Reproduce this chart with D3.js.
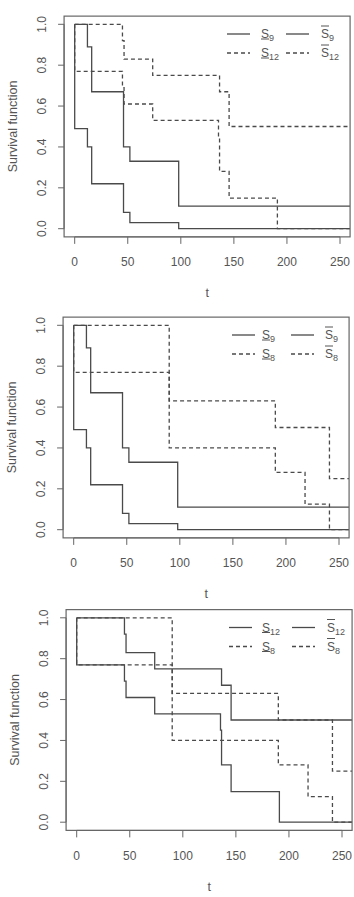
<!DOCTYPE html>
<html>
<head>
<meta charset="utf-8">
<script src="https://cdn.jsdelivr.net/npm/d3@7"></script>
<style>
  body { margin: 0; background: #fff; }
  text { font-family: "Liberation Sans", Arial, sans-serif; fill: #555; }
</style>
</head>
<body>
<svg id="chart" width="354" height="897"></svg>
<script>
// values (time, survival)
var tTicks = [0, 50, 100, 150, 200, 250];
var sTicks = [0, 0.2, 0.4, 0.6, 0.8, 1.0];

var s9LowTimes = [0, 12, 16, 46, 52, 98];
var s9LowSurv  = [0.49, 0.40, 0.22, 0.08, 0.03, 0];
var s9UpTimes  = [0, 12, 16, 46, 52, 98];
var s9UpSurv   = [1, 0.89, 0.67, 0.40, 0.33, 0.11];

var s12LowTimes = [0, 45, 46.5, 73.5, 135.5, 136.5, 145.5, 191];
var s12LowSurv  = [0.77, 0.69, 0.61, 0.53, 0.45, 0.28, 0.15, 0];
var s12UpTimes  = [0, 45, 46.5, 73.5, 136.5, 145.5];
var s12UpSurv   = [1, 0.92, 0.83, 0.75, 0.67, 0.50];

var s8LowTimes = [0, 90, 190, 218, 241];
var s8LowSurv  = [0.77, 0.40, 0.28, 0.125, 0];
var s8UpTimes  = [0, 90, 190, 241];
var s8UpSurv   = [1, 0.63, 0.50, 0.25];

var lineCol = "#4a4a4a";
var axisCol = "#666";
var svg = d3.select("#chart");

function curve(times, surv, dashed, sub, upper) {
  return { times: times, surv: surv, dashed: dashed, sub: sub, upper: upper };
}

var panels = [
  { ox: 0, oy: 0, legX: [227, 261, 286, 321],
    curves: [curve(s9LowTimes, s9LowSurv, false, "9", false), curve(s9UpTimes, s9UpSurv, false, "9", true),
             curve(s12LowTimes, s12LowSurv, true, "12", false), curve(s12UpTimes, s12UpSurv, true, "12", true)] },
  { ox: -1, oy: 301, legX: [233, 263, 292, 326],
    curves: [curve(s9LowTimes, s9LowSurv, false, "9", false), curve(s9UpTimes, s9UpSurv, false, "9", true),
             curve(s8LowTimes, s8LowSurv, true, "8", false), curve(s8UpTimes, s8UpSurv, true, "8", true)] },
  { ox: 2, oy: 593.5, legX: [227, 260, 290, 325],
    curves: [curve(s12LowTimes, s12LowSurv, false, "12", false), curve(s12UpTimes, s12UpSurv, false, "12", true),
             curve(s8LowTimes, s8LowSurv, true, "8", false), curve(s8UpTimes, s8UpSurv, true, "8", true)] }
];

var x = d3.scaleLinear().domain([0, 250]).range([74.7, 340]);
var y = d3.scaleLinear().domain([0, 1]).range([228.7, 24.3]);
var boxL = x(-10), boxR = x(259.5), boxT = y(1.04), boxB = y(-0.04);

function drawPanel(p, idx) {
  var g = svg.append("g").attr("transform", "translate(" + p.ox + "," + p.oy + ")");

  g.append("clipPath").attr("id", "clip" + idx)
    .append("rect").attr("x", boxL).attr("y", boxT)
    .attr("width", boxR - boxL).attr("height", boxB - boxT);

  // y axis
  g.append("line").attr("x1", boxL).attr("x2", boxL)
    .attr("y1", y(0)).attr("y2", y(1)).style("stroke", axisCol);
  sTicks.forEach(function(v) {
    g.append("line").attr("x1", boxL - 6).attr("x2", boxL)
      .attr("y1", y(v)).attr("y2", y(v)).style("stroke", axisCol);
    g.append("text")
      .attr("transform", "translate(46," + y(v) + ") rotate(-90)")
      .attr("text-anchor", "middle")
      .style("font-size", "12px")
      .text(d3.format(".1f")(v));
  });
  g.append("text")
    .attr("transform", "translate(17," + y(0.5) + ") rotate(-90)")
    .attr("text-anchor", "middle")
    .style("font-size", "12.5px")
    .text("Survival function");

  // x axis
  g.append("line").attr("x1", x(0)).attr("x2", x(250))
    .attr("y1", boxB).attr("y2", boxB).style("stroke", axisCol);
  tTicks.forEach(function(v) {
    g.append("line").attr("x1", x(v)).attr("x2", x(v))
      .attr("y1", boxB).attr("y2", boxB + 7).style("stroke", axisCol);
    g.append("text").attr("x", x(v)).attr("y", 266)
      .attr("text-anchor", "middle").style("font-size", "12px").text(v);
  });
  g.append("text").attr("x", x(125)).attr("y", 297)
    .attr("text-anchor", "middle").style("font-size", "12.5px").text("t");

  // step curves, dashed first so solid sits on top
  var line = d3.line().curve(d3.curveStepAfter)
    .x(function(d) { return x(d[0]); }).y(function(d) { return y(d[1]); });
  var order = p.curves.slice().sort(function(a, b) { return b.dashed - a.dashed; });
  order.forEach(function(c) {
    var pts = [[0, 1]];
    c.times.forEach(function(t, i) { pts.push([t, c.surv[i]]); });
    pts.push([265, c.surv[c.surv.length - 1]]);
    g.append("path").attr("d", line(pts))
      .attr("clip-path", "url(#clip" + idx + ")")
      .style("fill", "none").style("stroke", lineCol)
      .style("stroke-width", 1.3)
      .style("stroke-dasharray", c.dashed ? "4,3" : null);
  });

  // box
  g.append("rect").attr("x", boxL).attr("y", boxT)
    .attr("width", boxR - boxL).attr("height", boxB - boxT)
    .style("fill", "none").style("stroke", axisCol).style("stroke-width", 1.2);

  // legend: two rows, lower / upper bound in columns
  var rowY = [34, 53];
  p.curves.forEach(function(c, i) {
    var row = c.dashed ? 1 : 0;
    var col = c.upper ? 2 : 0;
    var ly = rowY[row];
    g.append("line")
      .attr("x1", p.legX[col]).attr("x2", p.legX[col] + 23)
      .attr("y1", ly).attr("y2", ly)
      .style("stroke", lineCol).style("stroke-width", 1.3)
      .style("stroke-dasharray", c.dashed ? "4,3" : null);
    var lx = p.legX[col + 1];
    var t = g.append("text").attr("x", lx).attr("y", ly + 4).style("font-size", "12px");
    t.append("tspan").text("S");
    t.append("tspan").attr("dy", 3).style("font-size", "9px").text(c.sub);
    var markY = c.upper ? ly - 8 : ly + 5;
    g.append("line")
      .attr("x1", lx).attr("x2", lx + 8)
      .attr("y1", markY).attr("y2", markY)
      .style("stroke", "#555").style("stroke-width", 1);
  });
}

panels.forEach(drawPanel);
</script>
</body>
</html>
